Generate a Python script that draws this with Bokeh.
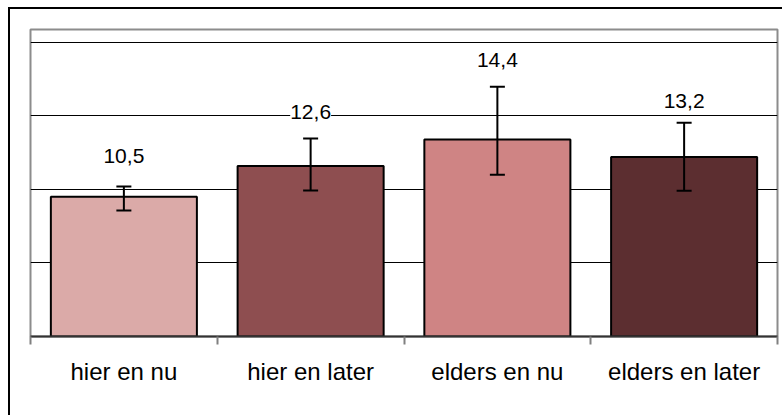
from bokeh.plotting import figure
from bokeh.layouts import column
from bokeh.models import Range1d, FixedTicker, Whisker, TeeHead, LabelSet, ColumnDataSource
from bokeh.core.properties import value
from bokeh.embed import file_html
from bokeh.resources import INLINE

# ---- data ----
categories = ["hier en nu", "hier en later", "elders en nu", "elders en later"]
values = [10.5, 12.6, 14.4, 13.2]
value_labels = ["10,5", "12,6", "14,4", "13,2"]
err_lower = [9.57, 10.93, 12.0, 10.91]
err_upper = [11.2, 14.47, 17.99, 15.54]
bar_colors = ["#DBAAA8", "#8E4E50", "#CF8484", "#5C2E30"]
grid_values = [6, 11, 16, 21]
baseline = 1
y_top = 21.88
label_offsets = [31, 26, 27, 22]  # px above error bar top

n = len(categories)
centers = [i + 0.5 for i in range(n)]
boundaries = list(range(n + 1))

src = ColumnDataSource(dict(x=centers, top=values, lower=err_lower, upper=err_upper,
                            color=bar_colors, label=value_labels, off=label_offsets))

p = figure(width=772, height=406, x_range=Range1d(0, n), y_range=Range1d(baseline, y_top),
           y_axis_location=None, output_backend="svg", toolbar_location=None,
           min_border_left=20, min_border_right=5, min_border_top=20, min_border_bottom=79)
p.background_fill_color = "white"
p.border_fill_color = "white"
p.outline_line_color = "#8c8c8c"
p.outline_line_width = 2

p.xgrid.visible = False
p.ygrid.ticker = FixedTicker(ticks=grid_values)
p.ygrid.grid_line_color = "black"
p.ygrid.grid_line_width = 1

p.vbar(x="x", top="top", bottom=baseline, width=0.782, fill_color="color",
       line_color="black", line_width=2, source=src)

p.add_layout(Whisker(base="x", lower="lower", upper="upper", source=src, level="annotation",
                     line_color="black", line_width=2,
                     upper_head=TeeHead(size=15, line_color="black", line_width=2),
                     lower_head=TeeHead(size=15, line_color="black", line_width=2)))

p.add_layout(LabelSet(x="x", y="upper", y_offset="off", text="label", source=src,
                      text_align="center", text_baseline="middle",
                      text_font=value("Liberation Sans"), text_font_size="21px",
                      text_color="black", background_fill_color="white"))

ax = p.xaxis[0]
ax.ticker = FixedTicker(ticks=centers, minor_ticks=boundaries)
ax.major_label_overrides = {c: name for c, name in zip(centers, categories)}
ax.major_tick_out = 0
ax.major_tick_in = 0
ax.minor_tick_out = 8
ax.minor_tick_in = 0
ax.minor_tick_line_color = "#808080"
ax.minor_tick_line_width = 2
ax.axis_line_color = "#333333"
ax.axis_line_width = 2
ax.major_label_standoff = 13
ax.major_label_text_font = "Liberation Sans"
ax.major_label_text_font_size = "24px"
ax.major_label_text_color = "black"

layout = column(p, styles={"border-left": "2px solid black", "border-top": "2px solid black",
                           "margin-left": "8px", "margin-top": "7px"})

open("out.html", "w").write(file_html(layout, INLINE))
